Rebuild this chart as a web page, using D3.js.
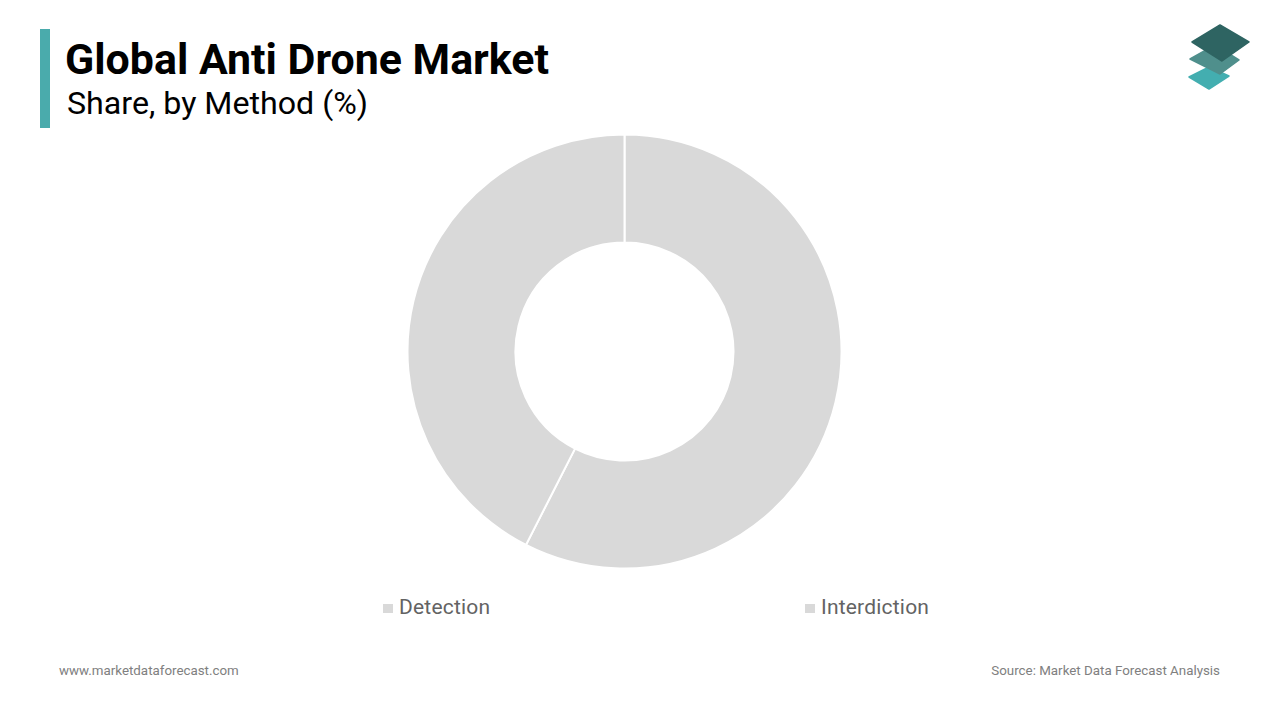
<!DOCTYPE html>
<html>
<head>
<meta charset="utf-8">
<script src="https://cdn.jsdelivr.net/npm/d3@7"></script>
<style>
  html, body { margin: 0; padding: 0; background: #fff; }
  svg { display: block; }
  text { font-family: Roboto, sans-serif; }
</style>
</head>
<body>
<svg width="1280" height="720"></svg>
<script>
var categories = ["Detection", "Interdiction"]
var shares = [57.5, 42.5]
var sliceColors = ["#d9d9d9", "#d9d9d9"]

var svg = d3.select("svg")

// title block
svg.append("rect").attr("x", 40).attr("y", 29).attr("width", 10).attr("height", 99).attr("fill", "#4aabac")
svg.append("text").attr("x", 65).attr("y", 74).attr("font-size", 42).attr("font-weight", 700)
   .attr("textLength", 484).attr("lengthAdjust", "spacingAndGlyphs")
   .attr("fill", "#000").text("Global Anti Drone Market")
svg.append("text").attr("x", 67).attr("y", 113.5).attr("font-size", 31)
   .attr("textLength", 301).attr("lengthAdjust", "spacingAndGlyphs")
   .attr("fill", "#000").text("Share, by Method (%)")

// logo
var layers = [
  {fill: "#43aeb0", pts: [[1209,67],[1229,76],[1209,89],[1189,77]]},
  {fill: "#4f8f8c", pts: [[1215,45],[1239,60],[1220,74],[1190,59]]},
  {fill: "#2e6462", pts: [[1220,25],[1249,42],[1222,61],[1192,42]]}
]
var logo = svg.append("g")
logo.selectAll("path").data(layers).enter().append("path")
    .attr("d", function(d){return "M" + d.pts.join("L") + "Z";})
    .attr("fill", function(d){return d.fill;})
    .attr("stroke", function(d){return d.fill;})
    .attr("stroke-width", 1.5)
    .attr("stroke-linejoin", "round")

// donut
var pie = d3.pie().sort(null).value(function(d){return d;})
var arc = d3.arc().innerRadius(109).outerRadius(217)
var donut = svg.append("g").attr("transform", "translate(624.5,351.5)")
donut.selectAll("path")
     .data(pie(shares))
     .enter()
     .append("path")
     .attr("d", arc)
     .attr("fill", function(d,i){return sliceColors[i];})
     .attr("stroke", "#fff")
     .attr("stroke-width", 2)

// legend
var legendX = d3.scalePoint().domain(categories).range([383, 805])
var legend = svg.selectAll(".legend")
                .data(categories)
                .enter()
                .append("g")
                .attr("class", "legend")
                .attr("transform", function(d){return "translate(" + legendX(d) + ",604)";})
legend.append("rect").attr("width", 10).attr("height", 9)
      .attr("fill", function(d,i){return sliceColors[i];})
legend.append("text").attr("x", 16).attr("y", 10).attr("font-size", 21)
      .attr("letter-spacing", 0.2)
      .attr("fill", "#636363").text(function(d){return d;})

// footer
svg.append("text").attr("x", 59).attr("y", 675).attr("font-size", 13.35)
   .attr("fill", "#808080").text("www.marketdataforecast.com")
svg.append("text").attr("x", 1220).attr("y", 675).attr("font-size", 13.35)
   .attr("text-anchor", "end").attr("fill", "#808080").text("Source: Market Data Forecast Analysis")
</script>
</body>
</html>
